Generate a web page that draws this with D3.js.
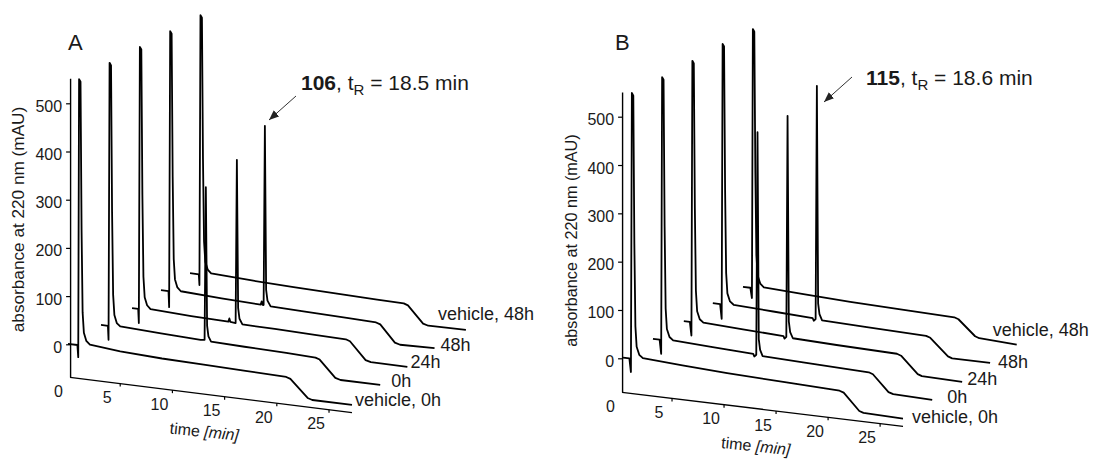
<!DOCTYPE html>
<html>
<head>
<meta charset="utf-8">
<script src="https://cdn.jsdelivr.net/npm/d3@7"></script>
<style>
body{margin:0;background:#fff;}
text{font-family:"Liberation Sans",Arial,sans-serif;fill:#1a1a1a;}
</style>
</head>
<body>
<svg id="chart" width="1099" height="460"></svg>
<script>
// sample names, front to back
var traceNames = ["vehicle, 0h", "0h", "24h", "48h", "vehicle, 48h"];
var yTicks = [0, 100, 200, 300, 400, 500];
var timeTicks = [0, 5, 10, 15, 20, 25];
var panelLetters = ["A", "B"];
var compoundIds = ["106", "115"];
var retentionTimes = ["18.5", "18.6"];

// chromatograms [time (min), absorbance (mAU)]
var tracesA = [
  [[0,1],[0.9,1],[0.98,-24],[1.06,553],[1.2,548],[1.3,240],[1.4,70],[1.52,28],[1.75,12],[2.1,5],[5,-1],[9,-5],[13,-7],[17,-9],[20.9,-11],[21.3,-14],[22.95,-49],[23.4,-52],[27.2,-52]],
  [[0.26,4],[0.92,4],[0.98,-25],[1.08,550],[1.22,545],[1.32,240],[1.42,70],[1.54,28],[1.77,12],[2.1,6],[6,2],[9.8,-1],[10.18,0],[10.3,317],[10.42,30],[10.55,8],[10.8,-2],[14,-4],[18,-6],[20.8,-8],[21.2,-11],[22.7,-45],[23.2,-48],[27.0,-48]],
  [[0.33,2],[0.92,2],[0.98,-27],[1.08,546],[1.22,541],[1.32,240],[1.42,70],[1.54,28],[1.77,12],[2.1,5],[6,1],[9.55,-1],[9.65,6],[9.75,-1],[10.25,-2],[10.37,337],[10.49,30],[10.62,8],[10.9,-3],[14,-4],[18,-6],[20.8,-7],[21.2,-10],[22.7,-45],[23.2,-48],[26.7,-48]],
  [[0.2,2],[0.92,2],[0.98,-31],[1.08,542],[1.22,537],[1.32,240],[1.42,70],[1.54,28],[1.77,12],[2.1,5],[6,1],[9.75,-2],[9.85,5],[9.95,-2],[10.03,-2],[10.15,370],[10.27,30],[10.4,8],[10.7,-3],[14,-5],[18,-7],[20.8,-9],[21.2,-12],[22.6,-46],[23.1,-49],[26.4,-47]],
  [[0.08,0],[0.92,0],[0.98,-22],[1.08,538],[1.22,533],[1.32,240],[1.42,70],[1.54,28],[1.77,12],[2.1,5],[6,1],[10,-2],[14,-4],[18,-6],[20.55,-7],[20.95,-10],[22.4,-44],[22.9,-47],[26.5,-46]]
];
var tracesB = [
  [[0.29,2],[0.9,2],[1.05,-26],[1.14,552],[1.28,547],[1.38,240],[1.48,70],[1.6,28],[1.85,12],[2.2,6],[6,1],[10.3,-4],[16,-8],[21.1,-12],[21.5,-15],[23.0,-49],[23.4,-52],[27.2,-54]],
  [[0.26,4],[0.9,4],[1.05,-25],[1.14,548],[1.28,543],[1.38,240],[1.48,70],[1.6,28],[1.85,12],[2.2,6],[6,2],[9.9,-2],[10.0,-7],[10.19,-3],[10.31,458],[10.43,30],[10.56,8],[10.8,-4],[15,-7],[21.0,-11],[21.4,-14],[22.9,-47],[23.35,-50],[27.1,-52]],
  [[0.32,4],[0.9,4],[1.05,-24],[1.14,545],[1.28,540],[1.38,240],[1.48,70],[1.6,28],[1.85,12],[2.2,6],[6,2],[9.9,-2],[10.0,-7],[10.17,-3],[10.29,455],[10.41,30],[10.54,8],[10.8,-4],[15,-7],[20.8,-10],[21.2,-13],[22.8,-47],[23.2,-50],[27.07,-52]],
  [[0.2,4],[0.9,4],[1.05,-26],[1.14,543],[1.28,538],[1.38,240],[1.48,70],[1.6,28],[1.85,12],[2.2,6],[6,2],[9.8,-2],[9.9,-7],[10.08,-3],[10.2,480],[10.32,30],[10.45,8],[10.7,-4],[15,-7],[20.7,-10],[21.1,-13],[22.8,-47],[23.2,-50],[26.85,-50]],
  [[0.19,1],[0.9,1],[1.05,-20],[1.14,537],[1.28,532],[1.38,240],[1.48,70],[1.6,28],[1.85,12],[2.2,5],[6,1],[10.5,-3],[15,-6],[20.5,-9],[20.9,-12],[22.5,-43],[22.9,-46],[26.5,-50]]
];

var panels = [
  {traces: tracesA, xr: [68, 352], yr: [344.3, 103.3], skew: 35.6, depth: [30.3, -17.8],
   yMin: -68, yMax: 552, letter: [68, 50], yTitle: [24, 219.5], yTitleSize: 17.2,
   labelOff: [[3,1],[11,2],[3,1],[6,3],[-28,-10]],
   note: [301, 90], arrow: [[296,96],[269,120]]},
  {traces: tracesB, xr: [620, 903], yr: [358.3, 116.7], skew: 34.3, depth: [30.25, -17.8],
   yMin: -70, yMax: 551, letter: [615, 50], yTitle: [577, 240.5], yTitleSize: 16.2,
   labelOff: [[9,4],[15,3],[5,3],[8,5],[-24,-9]],
   note: [866, 85], arrow: [[852,77],[824,102]]}
];

var svg = d3.select("#chart");
svg.append("defs").append("marker")
  .attr("id", "head")
  .attr("markerUnits", "userSpaceOnUse")
  .attr("markerWidth", 12).attr("markerHeight", 10)
  .attr("refX", 10).attr("refY", 4)
  .attr("orient", "auto")
  .append("path").attr("d", "M0,0L10,4L0,8Z").attr("fill", "#222");

panels.forEach(function(p, k){
  var tEnd = 27.2;
  var x = d3.scaleLinear().domain([0, tEnd]).range(p.xr);
  var y = d3.scaleLinear().domain([0, 500]).range(p.yr);
  var skew = d3.scaleLinear().domain([0, tEnd]).range([0, p.skew]);
  var g = svg.append("g");

  // pseudo-3D projection: time along x, absorbance up, sample depth back/right
  function px(t, i){ return x(t) + i * p.depth[0]; }
  function py(t, a, i){ return y(a) + skew(t) + i * p.depth[1]; }

  // absorbance axis
  var yAxisScale = d3.scaleLinear().domain([p.yMin, p.yMax]).range([y(p.yMin), y(p.yMax)]);
  var axisX = x(0.2);
  var ya = g.append("g")
    .attr("transform", "translate(" + axisX + ",0)")
    .call(d3.axisLeft(yAxisScale).tickValues(yTicks).tickSize(4).tickSizeOuter(0).tickPadding(4));
  ya.select(".domain").attr("stroke", "#000").attr("stroke-width", 1.4);
  ya.selectAll(".tick line").attr("stroke", "#000").attr("stroke-width", 1.2);
  ya.selectAll(".tick text").attr("font-size", 16).attr("fill", "#1a1a1a")
    .style("font-family", "'Liberation Sans', Arial, sans-serif").attr("dy", "0.5em");

  g.append("text")
    .attr("transform", "translate(" + p.yTitle[0] + "," + p.yTitle[1] + ") rotate(-90)")
    .attr("text-anchor", "middle").attr("font-size", p.yTitleSize)
    .text("absorbance at 220 nm (mAU)");

  // time axis
  g.append("line")
    .attr("x1", axisX).attr("y1", py(0.2, p.yMin, 0))
    .attr("x2", px(tEnd, 0)).attr("y2", py(tEnd, p.yMin, 0))
    .attr("stroke", "#000").attr("stroke-width", 1.4);
  timeTicks.forEach(function(t){
    var tx = px(t, 0), ty = py(t, p.yMin, 0);
    if (t > 0) {
      g.append("line").attr("x1", tx).attr("y1", ty).attr("x2", tx).attr("y2", ty + 3)
        .attr("stroke", "#000").attr("stroke-width", 1.2);
    }
    g.append("text")
      .attr("x", t === 0 ? tx - 5 : tx - 13)
      .attr("y", ty + 19.5)
      .attr("text-anchor", t === 0 ? "end" : "middle")
      .attr("font-size", 16)
      .text(t);
  });
  var tTitle = g.append("text")
    .attr("transform", "translate(" + px(13, 0) + "," + (py(13, p.yMin, 0) + 43) + ") rotate(6)")
    .attr("text-anchor", "middle").attr("font-size", 16);
  tTitle.append("tspan").text("time ");
  tTitle.append("tspan").attr("font-style", "italic").text("[min]");

  // chromatograms
  p.traces.forEach(function(tr, i){
    var line = d3.line()
      .x(function(d){ return px(d[0], i); })
      .y(function(d){ return py(d[0], d[1], i); });
    g.append("path").attr("d", line(tr))
      .attr("fill", "none").attr("stroke", "#000")
      .attr("stroke-width", 1.8).attr("stroke-linejoin", "round");
    var last = tr[tr.length - 1];
    g.append("text")
      .attr("x", px(last[0], i) + p.labelOff[i][0])
      .attr("y", py(last[0], last[1], i) + p.labelOff[i][1])
      .attr("font-size", 18)
      .text(traceNames[i]);
  });

  // panel letter
  g.append("text").attr("x", p.letter[0]).attr("y", p.letter[1])
    .attr("font-size", 22).text(panelLetters[k]);

  // compound annotation
  var note = g.append("text").attr("x", p.note[0]).attr("y", p.note[1]).attr("font-size", 21);
  note.append("tspan").attr("font-weight", "bold").text(compoundIds[k]);
  note.append("tspan").text(", t");
  note.append("tspan").attr("font-size", 15).attr("dy", 5).text("R");
  note.append("tspan").attr("dy", -5).text(" = " + retentionTimes[k] + " min");
  g.append("line")
    .attr("x1", p.arrow[0][0]).attr("y1", p.arrow[0][1])
    .attr("x2", p.arrow[1][0]).attr("y2", p.arrow[1][1])
    .attr("stroke", "#333").attr("stroke-width", 1)
    .attr("marker-end", "url(#head)");
});
</script>
</body>
</html>
